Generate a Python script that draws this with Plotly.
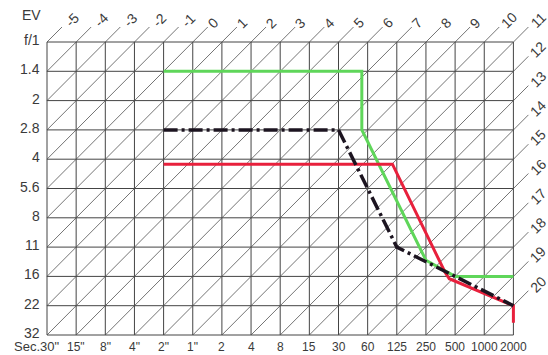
import plotly.graph_objects as go

# ---- data -------------------------------------------------------------
f_labels = ["f/1", "1.4", "2", "2.8", "4", "5.6", "8", "11", "16", "22", "32"]
shutter_labels = ['30"', '15"', '8"', '4"', '2"', '1"', '2', '4', '8', '15', '30',
                  '60', '125', '250', '500', '1000', '2000']
ev_min = -5
ev_labeled = list(range(-5, 21))

# program lines (shutter stop index: 0 = 30 s ; aperture stop index: 0 = f/1)
green_shutter = [4, 10.8, 10.8, 10.9, 13.0, 14.0, 16]
green_aperture = [1, 1, 3.0, 3.2, 7.45, 8.0, 8.0]
red_shutter = [4, 11.85, 13.65, 13.8, 16, 16]
red_aperture = [4.17, 4.17, 7.85, 8.08, 9.0, 9.58]
black_shutter = [4, 10, 12, 16]
black_aperture = [3, 3, 7, 9]

# ---- layout constants -------------------------------------------------
W, H = 548, 355
X0, DX, Y0, DY = 47, 29.15, 42, 29.3
nc = len(shutter_labels) - 1
nr = len(f_labels) - 1
ext_c, ext_r = 15 / DX, 15 / DY
FAM = "Liberation Sans, Arial, sans-serif"
FONT = dict(family=FAM, size=14, color="#3a3a3a")
FONT_S = dict(family=FAM, size=13, color="#3a3a3a")
FONT_B = dict(family=FAM, size=12, color="#3a3a3a")
GRID = "#444444"

fig = go.Figure()

# rectangular grid
gx, gy = [], []
for c in range(nc + 1):
    gx += [c, c, None]
    gy += [0, nr, None]
for r in range(nr + 1):
    gx += [0, nc, None]
    gy += [r, r, None]
fig.add_trace(go.Scatter(x=gx, y=gy, mode="lines", line=dict(color=GRID, width=1),
                         hoverinfo="skip"))

# EV diagonals
dx_, dy_ = [], []
annotations = []
for s in range(nc + nr + 1):
    ev = ev_min + s
    r1 = min(s, nr)
    c1 = s - r1
    c2 = min(s, nc)
    r2 = s - c2
    ce, re = c2, r2
    if ev in ev_labeled:
        ce, re = c2 + ext_c, r2 - ext_r
        t = str(ev)
        annotations.append(dict(x=c2, y=r2, xref="x", yref="y", text=t, showarrow=False,
                                textangle=-45, font=FONT,
                                xshift=15 + 5 * len(t), yshift=16 + 3 * len(t)))
    dx_ += [c1, ce, None]
    dy_ += [r1, re, None]
fig.add_trace(go.Scatter(x=dx_, y=dy_, mode="lines", line=dict(color="#505050", width=0.8),
                         hoverinfo="skip"))

# program curves
fig.add_trace(go.Scatter(x=green_shutter, y=green_aperture, mode="lines",
                         line=dict(color="#5fd65a", width=3)))
fig.add_trace(go.Scatter(x=red_shutter, y=red_aperture, mode="lines",
                         line=dict(color="#e8203c", width=3)))
fig.add_trace(go.Scatter(x=black_shutter, y=black_aperture, mode="lines",
                         line=dict(color="#1c1420", width=3.5, dash="14px,4px,3px,4px")))

# aperture labels
for r, t in enumerate(f_labels):
    annotations.append(dict(x=0, y=r, xref="x", yref="y", text=t, showarrow=False,
                            xanchor="right", xshift=-5, yshift=2, font=FONT))
annotations.append(dict(x=0, y=0, xref="x", yref="y", text="EV", showarrow=False,
                        xanchor="right", xshift=-4, yshift=27, font=FONT))
# shutter labels
for c, t in enumerate(shutter_labels):
    if c == 0:
        annotations.append(dict(x=c, y=nr, xref="x", yref="y", text="Sec." + t,
                                showarrow=False, xanchor="right", xshift=14, yshift=-11,
                                font=FONT_S))
    else:
        annotations.append(dict(x=c, y=nr, xref="x", yref="y", text=t, showarrow=False,
                                yshift=-12, font=FONT_B))

fig.update_layout(
    width=W, height=H, margin=dict(l=0, r=0, t=0, b=0, pad=0),
    paper_bgcolor="white", plot_bgcolor="white", showlegend=False,
    xaxis=dict(range=[-X0 / DX, (W - X0) / DX], visible=False, fixedrange=True),
    yaxis=dict(range=[(H - Y0) / DY, -Y0 / DY], visible=False, fixedrange=True),
    annotations=annotations,
)
fig.write_html("out.html", config={"displayModeBar": False},
               post_script="document.body.style.margin='0';document.body.style.overflow='hidden';")
